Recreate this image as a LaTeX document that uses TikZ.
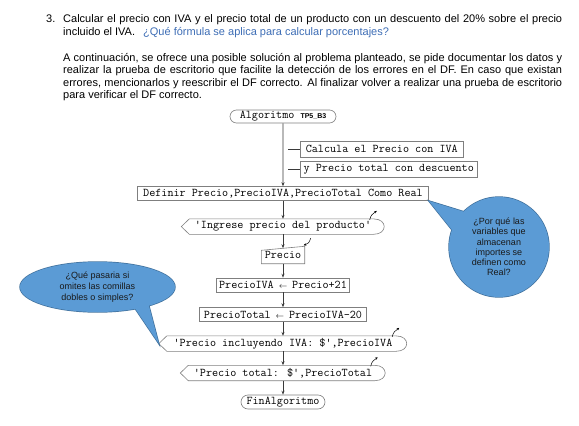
\documentclass[tikz,border=0pt]{standalone}
\usepackage{fontspec}
\setmainfont{Liberation Sans}
\usetikzlibrary{positioning,shapes.misc,shapes.geometric,arrows.meta}

\definecolor{bubblefill}{HTML}{5B9BD5}
\definecolor{bubbleedge}{HTML}{41719C}
\definecolor{askblue}{HTML}{3D6DB5}
\definecolor{boxgray}{HTML}{7F7F7F}
\definecolor{flowline}{HTML}{3A3A3A}

% salida (Escribir): punta a la izquierda, lado derecho curvo
\newcommand\outshape[1]{%
  \draw[boxgray, line width=0.6pt] (#1.west) -- ([xshift=8pt]#1.north west)
    -- ([xshift=-11pt]#1.north east)
    .. controls ([xshift=3pt]#1.north east) and ([xshift=3pt]#1.south east)
    .. ([xshift=-11pt]#1.south east) -- ([xshift=8pt]#1.south west) -- cycle;
  \draw[icon] ([xshift=-15pt,yshift=-1pt]#1.north east)
    .. controls ([xshift=-14pt,yshift=4pt]#1.north east) and ([xshift=-12pt,yshift=5pt]#1.north east)
    .. ([xshift=-8pt,yshift=8pt]#1.north east);
}
% entrada (Leer): borde superior inclinado
\newcommand\inshape[1]{%
  \draw[boxgray, line width=0.6pt] (#1.south west) -- ([yshift=-4pt]#1.north west)
    -- (#1.north east) -- (#1.south east) -- cycle;
  \draw[icon] ([xshift=6pt,yshift=8pt]#1.north east)
    .. controls ([xshift=4pt,yshift=3pt]#1.north east) .. ([xshift=-1pt,yshift=1pt]#1.north east);
}
\newcommand\asig{ \makebox[6.2pt]{\fontsize{8}{8}\selectfont\ensuremath{\leftarrow}} }

\begin{document}
\begin{tikzpicture}[x=1pt, y=-1pt,
   txtline/.style={anchor=base west, inner sep=0pt, font=\fontsize{11}{12.6}\selectfont},
   code/.style={font=\ttfamily\fontsize{11.8}{13}\selectfont, inner xsep=2pt, inner ysep=0pt},
   proc/.style={code, draw=boxgray, line width=0.6pt, rectangle},
   startend/.style={code, draw=boxgray, line width=0.6pt, rounded rectangle},
   outbox/.style={code, minimum height=15pt},
   flow/.style={draw=flowline, line width=0.7pt, -{Stealth[length=4pt,width=3pt]}},
   note/.style={draw=flowline, line width=0.6pt},
   icon/.style={draw=black, line width=0.5pt, -{Stealth[length=2.5pt,width=2.5pt]}},
   bubble edge/.style={draw=bubbleedge, line width=1.4pt, inner sep=0pt, outer sep=0pt},
   bubble body/.style={fill=bubblefill, inner sep=0pt, outer sep=0pt, align=center, text=black!90}]

\useasboundingbox (0,0) rectangle (579,426);

% enunciado
\node[txtline] (num) at (46,22.5) {3.};
\node[txtline] (l1) at (63,22.5) {\makebox[499pt][s]{Calcular el precio con IVA y el precio total de un producto con un descuento del 20\% sobre el precio}};
\node[txtline] (l2) at (63,35) {incluido el IVA.\hspace{5pt} \textcolor{askblue}{¿Qué fórmula se aplica para calcular porcentajes?}};
\node[txtline] (p1) at (63,61) {\makebox[499pt][s]{A continuación, se ofrece una posible solución al problema planteado, se pide documentar los datos y}};
\node[txtline] (p2) at (63,73.6) {\makebox[499pt][s]{realizar la prueba de escritorio que facilite la detección de los errores en el DF. En caso que existan}};
\node[txtline] (p3) at (63,86.3) {\makebox[499pt][s]{errores, mencionarlos y reescribir el DF correcto. Al finalizar volver a realizar una prueba de escritorio}};
\node[txtline] (p4) at (63,98.9) {para verificar el DF correcto.};

% diagrama de flujo
\node[startend, minimum width=110pt, minimum height=13pt] (alg) at (283,116.5) {Algoritmo {\rmfamily\bfseries\fontsize{7}{8}\selectfont TP5\_B3}};
\node[proc, anchor=west, minimum width=163pt, minimum height=16pt] (c1) at (300,149) {Calcula el Precio con IVA};
\node[proc, anchor=west, minimum width=177pt, minimum height=16pt] (c2) at (300,169) {y Precio total con descuento};
\node[proc, minimum width=291pt, minimum height=14pt, below=63pt of alg] (def) {Definir Precio,PrecioIVA,PrecioTotal Como Real};
\node[outbox, minimum width=203pt, below=18pt of def] (d1) {'Ingrese precio del producto'\hspace{7pt}};
\node[code, minimum width=43pt, minimum height=17pt, below=12pt of d1] (inp) {Precio};
\node[proc, minimum width=133pt, minimum height=14pt, below=14pt of inp] (a1) {PrecioIVA\asig Precio+21};
\node[proc, minimum width=167pt, minimum height=14pt, below=15pt of a1] (a2) {PrecioTotal\asig PrecioIVA-20};
\node[outbox, minimum width=248pt, below=14pt of a2] (d2) {'Precio incluyendo IVA: \$',PrecioIVA\hspace{7pt}};
\node[outbox, minimum width=205pt, below=14pt of d2] (d3) {'Precio total: \$',PrecioTotal\hspace{7pt}};
\node[startend, minimum width=88pt, minimum height=14pt, below=14pt of d3] (fin) {FinAlgoritmo};

\outshape{d1}
\outshape{d2}
\outshape{d3}
\inshape{inp}

\draw[flow] (alg) -- (def);
\draw[note] ([xshift=5pt]alg.south |- c1.west) -- (c1.west);
\draw[note] ([xshift=5pt]alg.south |- c2.west) -- (c2.west);
\draw[flow] (def) -- (d1);
\draw[flow] (d1) -- ([yshift=-2pt]inp.north);
\draw[flow] (inp) -- (a1);
\draw[flow] (a1) -- (a2);
\draw[flow] (a2) -- (d2);
\draw[flow] (d2) -- (d3);
\draw[flow] (d3) -- (fin);

% globos de preguntas
\node[bubble edge, ellipse, minimum width=155pt, minimum height=50pt] (q1) at (97.5,287) {};
\draw[bubble edge] (q1.-30) -- (d2.west) -- (q1.-20);
\fill[bubblefill] (q1.-30) -- (d2.west) -- (q1.-20) -- (q1.center) -- cycle;
\node[bubble body, ellipse, minimum width=155pt, minimum height=50pt,
      font=\fontsize{9}{11}\selectfont] at (q1) {¿Qué pasaria si\\omites las comillas\\dobles o simples?};

\node[bubble edge, circle, minimum size=100pt] (q2) at (499,247) {};
\draw[bubble edge] (q2.135) -- (def.south east) -- (q2.160);
\fill[bubblefill] (q2.135) -- (def.south east) -- (q2.160) -- (q2.center) -- cycle;
\node[bubble body, circle, minimum size=100pt,
      font=\fontsize{9}{10.2}\selectfont] at (q2) {¿Por qué las\\variables que\\almacenan\\importes se\\definen como\\Real?};

\end{tikzpicture}
\end{document}
